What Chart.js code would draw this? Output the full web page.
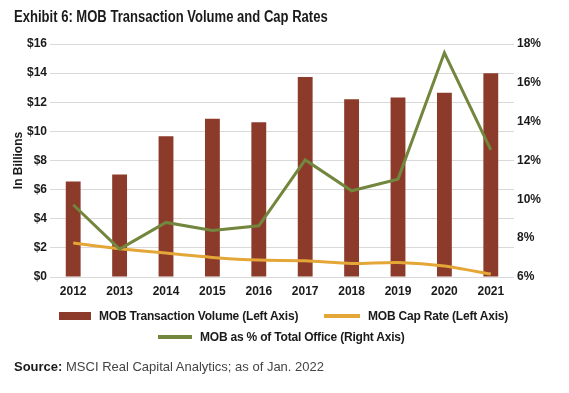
<!DOCTYPE html>
<html>
<head>
<meta charset="utf-8">
<script src="https://cdn.jsdelivr.net/npm/chart.js@4.4.0/dist/chart.umd.min.js"></script>
<style>
  html, body { margin: 0; padding: 0; background: #fff; }
  #wrap {
    position: relative; width: 569px; height: 393px; overflow: hidden;
    font-family: "Liberation Sans", Arial, sans-serif;
    color: #1a1a1a;
  }
  #chart { position: absolute; left: 0; top: 0; }
  .title { position: absolute; left: 14px; top: 8px; font-weight: bold; font-size: 16px; white-space: nowrap; transform-origin: 0 0; }
  .lg { position: absolute; display: flex; align-items: center; font-weight: bold; font-size: 12px; white-space: nowrap; letter-spacing: -0.2px; }
  .lg i { display: inline-block; margin-right: 8px; }
  .source { position: absolute; left: 14px; top: 359px; font-size: 13px; white-space: nowrap; color: #444; }
  .source b { color: #1a1a1a; }
</style>
</head>
<body>
<div id="wrap">
  <canvas id="chart" width="569" height="393"></canvas>
  <div class="title" id="title">Exhibit 6: MOB Transaction Volume and Cap Rates</div>
  <div id="legend"></div>
  <div class="source"><b>Source:</b> MSCI Real Capital Analytics; as of Jan. 2022</div>
</div>
<script>
// data
const years = ['2012', '2013', '2014', '2015', '2016', '2017', '2018', '2019', '2020', '2021'];
const volume = [6.56, 7.04, 9.67, 10.86, 10.63, 13.74, 12.21, 12.32, 12.66, 13.99]; // $ billions
const capRate = [7.75, 7.46, 7.23, 7.01, 6.87, 6.84, 6.70, 6.75, 6.57, 6.15];     // %
const mobShare = [9.72, 7.44, 8.81, 8.40, 8.64, 12.03, 10.44, 11.04, 17.55, 12.55]; // %
const seriesNames = [
  'MOB Transaction Volume (Left Axis)',
  'MOB Cap Rate (Left Axis)',
  'MOB as % of Total Office (Right Axis)'
];

const colors = {
  bar: '#8c3a29',
  cap: '#e4a636',
  share: '#72863e',
  grid: '#d9d9d9',
  text: '#1a1a1a'
};

Chart.defaults.font.family = '"Liberation Sans", Arial, sans-serif';
Chart.defaults.color = colors.text;

const tickFont = { size: 12, weight: 'bold' };

const chart = new Chart(document.getElementById('chart'), {
  data: {
    labels: years,
    datasets: [
      {
        type: 'line', label: seriesNames[2], data: mobShare, yAxisID: 'y1',
        borderColor: colors.share, borderWidth: 3, pointRadius: 0, tension: 0, order: 1
      },
      {
        type: 'line', label: seriesNames[1], data: capRate, yAxisID: 'y1',
        borderColor: colors.cap, borderWidth: 3, pointRadius: 0, tension: 0.25, order: 2
      },
      {
        type: 'bar', label: seriesNames[0], data: volume, yAxisID: 'y',
        backgroundColor: colors.bar, barPercentage: 0.32, categoryPercentage: 1, order: 3
      }
    ]
  },
  options: {
    responsive: false,
    devicePixelRatio: 1,
    animation: false,
    layout: { padding: { top: 44, bottom: 86, left: 0, right: 0 } },
    plugins: { legend: { display: false }, tooltip: { enabled: false } },
    scales: {
      x: {
        grid: { display: false, drawTicks: false },
        border: { display: false },
        ticks: { padding: 7, font: tickFont, maxRotation: 0 },
        afterFit: s => { s.height = 30; }
      },
      y: {
        position: 'left', min: 0, max: 16,
        grid: { color: colors.grid, drawTicks: false },
        border: { display: false },
        ticks: { stepSize: 2, padding: 3, font: tickFont, callback: v => '$' + v },
        title: { display: true, text: 'In Billions', font: { size: 12, weight: 'bold' }, padding: { top: 11, bottom: 0 } },
        afterFit: s => { s.width = 50; }
      },
      y1: {
        position: 'right', min: 6, max: 18,
        grid: { drawOnChartArea: false, drawTicks: false },
        border: { display: false },
        ticks: { stepSize: 2, padding: 3, font: tickFont, callback: v => v + '%' },
        afterFit: s => { s.width = 55; }
      }
    }
  }
});

// the original uses a condensed face; squeeze the title to its width
const title = document.getElementById('title');
title.style.transform = 'scaleX(' + (314 / title.offsetWidth) + ')';

// html legend, laid out in two rows like the original
const legendItems = [
  { name: seriesNames[0], color: colors.bar, w: 32, h: 8, x: 59, y: 311 },
  { name: seriesNames[1], color: colors.cap, w: 36, h: 4, x: 324, y: 311 },
  { name: seriesNames[2], color: colors.share, w: 34, h: 4, x: 158, y: 332 }
];
const legend = document.getElementById('legend');
legendItems.forEach(it => {
  const d = document.createElement('div');
  d.className = 'lg';
  d.style.left = it.x + 'px';
  d.style.top = (it.y - 2) + 'px';
  d.style.height = '14px';
  d.innerHTML = '<i style="width:' + it.w + 'px;height:' + it.h + 'px;background:' + it.color + '"></i>' + it.name;
  legend.appendChild(d);
});
</script>
</body>
</html>
